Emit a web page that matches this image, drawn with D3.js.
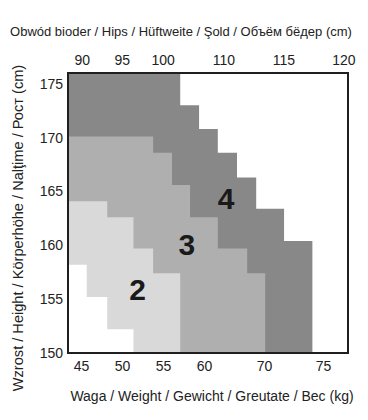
<!DOCTYPE html>
<html>
<head>
<meta charset="utf-8">
<script src="https://cdn.jsdelivr.net/npm/d3@7"></script>
<style>
  body { margin: 0; background: #fff; }
  text { fill: #222; }
  .tick-label { font-family: "Liberation Sans Narrow", "Arial Narrow", "Liberation Sans", sans-serif; font-size: 14px; }
  .title { font-family: "Liberation Sans", Arial, sans-serif; font-size: 13px; }
  .size-label { font-family: "Liberation Sans", Arial, sans-serif; font-size: 30px; font-weight: bold; fill: #1a1a1a; }
</style>
</head>
<body>
<div id="chart"></div>
<script>
// axis ticks
const heightTicks = [150, 155, 160, 165, 170, 175];
const weightTicks = [45, 50, 55, 60, 70, 75];
const hipTicks = [90, 95, 100, 110, 115, 120];

// staircases: [height from, height to, max weight]
const size4Steps = [[176, 173.0, 57.1], [173.0, 170.8, 59.4], [170.8, 168.6, 62.3], [168.6, 166.3, 65.5],
  [166.3, 163.4, 68.7], [163.4, 160.4, 71.7], [160.4, 150, 74.1]];
const size3Steps = [[170.1, 168.6, 53.8], [168.6, 165.6, 56.1], [165.6, 162.6, 58.3], [162.6, 159.7, 62.3],
  [159.7, 157.4, 67.2], [157.4, 150, 70.1]];
const size2Steps = [[164.1, 162.6, 48.2], [162.6, 159.7, 51.4], [159.7, 157.4, 53.8], [157.4, 150, 57.1]];
const outsideSteps = [[158.2, 155.2, 45.7], [155.2, 152.2, 48.2], [152.2, 150, 51.4]];

const sizes = [
  { name: '4', steps: size4Steps, color: '#888888', label: [63.7, 164.4] },
  { name: '3', steps: size3Steps, color: '#afafaf', label: [57.9, 160.1] },
  { name: '2', steps: size2Steps, color: '#d9d9d9', label: [51.9, 155.9] },
  { name: '', steps: outsideSteps, color: '#ffffff', label: null }
];

const width = 368, height = 420;
const margin = { top: 73, left: 68 };
const plotW = 280, plotH = 280;

const svg = d3.select('#chart').append('svg')
  .attr('width', width)
  .attr('height', height);

const g = svg.append('g').attr('transform', `translate(${margin.left},${margin.top})`);

// the source chart spaces its ticks unevenly, so both x scales are polylinear
const x = d3.scaleLinear().domain(weightTicks).range([13, 54, 95, 136, 196, 255]);
const xHip = d3.scaleLinear().domain(hipTicks).range([13.7, 53.7, 94.7, 155.3, 215.3, 275.3]);
const y = d3.scaleLinear().domain([150, 176]).range([plotH, 0]);

g.append('rect').attr('width', plotW).attr('height', plotH).attr('fill', '#fff');

const line = d3.line();
const stairPoints = steps => {
  const pts = [[0, y(steps[0][0])]];
  steps.forEach(([from, to, w]) => {
    pts.push([x(w), y(from)], [x(w), y(to)]);
  });
  pts.push([0, y(steps[steps.length - 1][1])]);
  return pts;
};

g.selectAll('path.region')
  .data(sizes)
  .join('path')
  .attr('class', 'region')
  .attr('d', d => line(stairPoints(d.steps)) + 'Z')
  .attr('fill', d => d.color);

g.selectAll('text.size-label')
  .data(sizes.filter(d => d.label))
  .join('text')
  .attr('class', 'size-label')
  .attr('x', d => x(d.label[0]))
  .attr('y', d => y(d.label[1]))
  .attr('dy', '0.36em')
  .attr('text-anchor', 'middle')
  .text(d => d.name);

g.append('rect')
  .attr('width', plotW).attr('height', plotH)
  .attr('fill', 'none').attr('stroke', '#1f1f1f').attr('stroke-width', 2);

// axes
const styleAxis = sel => {
  sel.select('.domain').remove();
  sel.selectAll('text').attr('class', 'tick-label').attr('fill', null).attr('font-size', null).attr('font-family', null);
};

g.append('g')
  .call(d3.axisLeft(y).tickValues(heightTicks).tickSize(0).tickPadding(5))
  .call(styleAxis);

g.append('g')
  .attr('transform', `translate(0,${plotH})`)
  .call(d3.axisBottom(x).tickValues(weightTicks).tickSize(0).tickPadding(8))
  .call(styleAxis);

g.append('g')
  .call(d3.axisTop(xHip).tickValues(hipTicks).tickSize(0).tickPadding(8))
  .call(styleAxis);

// titles
svg.append('text').attr('class', 'title')
  .attr('x', 181).attr('y', 36).attr('text-anchor', 'middle')
  .text('Obwód bioder / Hips / Hüftweite / Şold / Объём бёдер (cm)');

svg.append('text').attr('class', 'title')
  .attr('x', 212).attr('y', 401).attr('text-anchor', 'middle')
  .style('font-size', '14px')
  .text('Waga / Weight / Gewicht / Greutate / Bec (kg)');

svg.append('text').attr('class', 'title')
  .attr('transform', 'translate(23,228) rotate(-90)')
  .attr('text-anchor', 'middle')
  .style('font-size', '14.6px')
  .text('Wzrost / Height / Körperhöhe / Nalţime / Рост (cm)');
</script>
</body>
</html>
